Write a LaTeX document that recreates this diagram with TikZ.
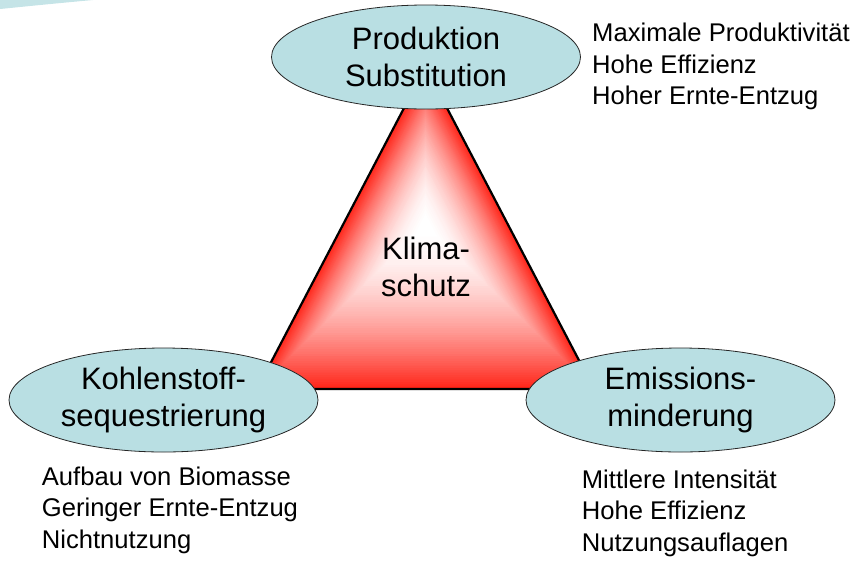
\documentclass[tikz,border=0pt]{standalone}
\usepackage{fontspec}
\setmainfont{Liberation Sans}
\usetikzlibrary{shapes.geometric,calc}
\definecolor{ellfill}{RGB}{185,223,227}
\definecolor{swooshc}{RGB}{197,228,231}
\definecolor{trired}{RGB}{255,36,24}
\begin{document}
\begin{tikzpicture}[x=1pt,y=-1pt,
  oval/.style={ellipse, draw=black!85, line width=0.8pt, fill=ellfill,
    minimum width=309pt, minimum height=104pt, inner sep=0pt,
    align=center, font=\fontsize{31}{37}\selectfont},
  sidetext/.style={anchor=base west, align=left, inner sep=0pt,
    font=\fontsize{25.6}{31.5}\selectfont},
  midtext/.style={align=center, inner sep=0pt, font=\fontsize{31}{37}\selectfont},
  triedge/.style={draw=black, line width=2.2pt, line join=miter}
]
\useasboundingbox (0,0) rectangle (864,560);
% decorative swoosh top-left
\fill[swooshc] (0,0) -- (93,0) .. controls (60,3) and (30,6) .. (0,9) -- cycle;
% triangle with path gradient
\coordinate (A) at (425.5,67);
\coordinate (B) at (257,389);
\coordinate (C) at (594,389);
\coordinate (P) at (425.5,225);
\foreach \i in {0,...,70}{
  \pgfmathsetmacro{\scl}{1-\i/70}
  \pgfmathtruncatemacro{\pct}{100*(\scl^1.8)}
  \fill[trired!\pct!white] ($(P)!\scl!(A)$) -- ($(P)!\scl!(B)$) -- ($(P)!\scl!(C)$) -- cycle;
}
\draw[triedge] (A) -- (B) -- (C) -- cycle;
\node[midtext] (klima) at (426,267) {Klima-\\schutz};
% ellipses
\node[oval] (prod) at (426,57) {Produktion\\Substitution};
\node[oval] (kohl) at (163.5,400) {Kohlenstoff-\\sequestrierung};
\node[oval] (emis) at (680.5,400) {Emissions-\\minderung};
% side texts (base anchor = last line baseline)
\node[sidetext] (prodtxt) at (592,104.5) {Maximale Produktivität\\Hohe Effizienz\\Hoher Ernte-Entzug};
\node[sidetext] (kohltxt) at (41.7,548) {Aufbau von Biomasse\\Geringer Ernte-Entzug\\Nichtnutzung};
\node[sidetext] (emistxt) at (581.7,551) {Mittlere Intensität\\Hohe Effizienz\\Nutzungsauflagen};
\end{tikzpicture}
\end{document}
